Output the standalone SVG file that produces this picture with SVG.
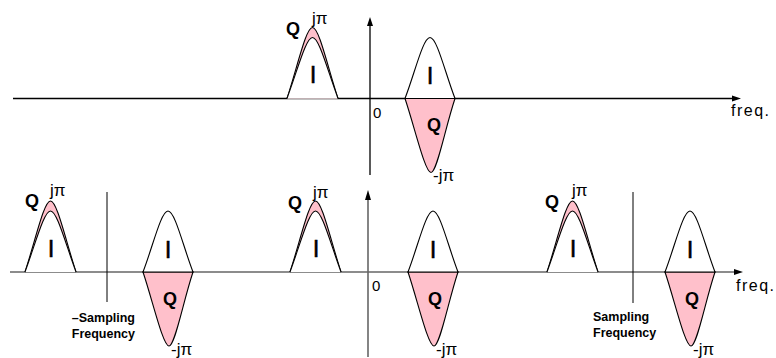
<svg xmlns="http://www.w3.org/2000/svg" width="776" height="358" viewBox="0 0 776 358">
<style>
text{font-family:"Liberation Sans",Arial,sans-serif;fill:#000}
.q{font-size:18px;font-weight:bold}
.i{font-size:24px;text-anchor:middle;stroke:#000;stroke-width:0.5}
.j{font-size:17px}
.z{font-size:15px}
.f{font-size:16px}
.s{font-size:12.5px;font-weight:bold}
.ax{stroke:#000;stroke-width:1.3;fill:none}
.ax2{stroke:#666;stroke-width:1.6;fill:none}
.sl{stroke:#000;stroke-width:1;fill:none}
.pk{fill:#ffc0cb;stroke:#000;stroke-width:1.1}
.wh{fill:#fff;stroke:#000;stroke-width:1.1}
</style>
<defs>
<g id="lobeL">
<path class="pk" d="M0,0 C11,-34 19,-71 25.5,-71 S40,-34 51,0"/>
<path class="wh" d="M0,0 C11,-30 19,-61 25.5,-61 S40,-30 51,0"/>
</g>
<g id="lobeR">
<path class="pk" d="M0,0 C10,30 20,74 26,74 C32,74 40,30 50,0 Z"/>
<path class="wh" d="M0,0 C10,-26 18,-61 25,-61 S40,-26 50,0 Z"/>
</g>
</defs>

<g id="connectors">
<line class="ax" x1="13" y1="98.5" x2="734" y2="98.5"/>
<polygon points="741,98.5 732,95.5 732,101.5" fill="#000"/>
<line class="ax" x1="370" y1="175" x2="370" y2="25"/>
<polygon points="370,17 367,26 373,26" fill="#000"/>
<line class="ax2" x1="10" y1="272" x2="736" y2="272"/>
<polygon points="743,272 734,269 734,275" fill="#000"/>
<line class="ax2" x1="368" y1="357" x2="368" y2="199"/>
<polygon points="368,190 365,200 371,200" fill="#000"/>
<line class="sl" x1="107" y1="192" x2="107" y2="302"/>
<line class="sl" x1="633" y1="192" x2="633" y2="303"/>
</g>

<g id="top-left-lobe">
<use href="#lobeL" x="287" y="98.5"/>
<text class="q" x="286" y="35">Q</text>
<text class="j" x="312" y="24">jπ</text>
<text class="i" x="313" y="83">I</text>
</g>
<g id="top-right-lobe">
<use href="#lobeR" x="405" y="98.5"/>
<text class="i" x="430" y="84">I</text>
<text class="q" x="434" y="131" text-anchor="middle">Q</text>
<text class="j" x="433" y="181">-jπ</text>
</g>
<g id="top-labels">
<text class="z" x="373" y="118">0</text>
<text class="f" x="731" y="116" textLength="38">freq.</text>
</g>

<g id="mid-left-lobe">
<use href="#lobeL" x="290" y="272"/>
<text class="q" x="288" y="209">Q</text>
<text class="j" x="313" y="198">jπ</text>
<text class="i" x="316" y="257">I</text>
</g>
<g id="mid-right-lobe">
<use href="#lobeR" x="408" y="272"/>
<text class="i" x="433" y="258">I</text>
<text class="q" x="435" y="305" text-anchor="middle">Q</text>
<text class="j" x="436" y="355">-jπ</text>
</g>
<g id="mid-labels">
<text class="z" x="372" y="291">0</text>
</g>

<g id="left-left-lobe">
<use href="#lobeL" x="25" y="272"/>
<text class="q" x="25" y="207">Q</text>
<text class="j" x="50" y="196">jπ</text>
<text class="i" x="51" y="257">I</text>
</g>
<g id="left-right-lobe">
<use href="#lobeR" x="143" y="272"/>
<text class="i" x="168" y="258">I</text>
<text class="q" x="170" y="305" text-anchor="middle">Q</text>
<text class="j" x="171" y="355">-jπ</text>
</g>
<g id="neg-sampling-label">
<text class="s" x="135" y="322" text-anchor="end">–Sampling</text>
<text class="s" x="135" y="338" text-anchor="end">Frequency</text>
</g>

<g id="right-left-lobe">
<use href="#lobeL" x="547" y="272"/>
<text class="q" x="545" y="208">Q</text>
<text class="j" x="572" y="196">jπ</text>
<text class="i" x="573" y="257">I</text>
</g>
<g id="right-right-lobe">
<use href="#lobeR" x="665" y="272"/>
<text class="i" x="690" y="258">I</text>
<text class="q" x="692" y="305" text-anchor="middle">Q</text>
<text class="j" x="693" y="355">-jπ</text>
</g>
<g id="sampling-label">
<text class="s" x="593" y="321">Sampling</text>
<text class="s" x="593" y="337">Frequency</text>
</g>
<g id="bottom-labels">
<text class="f" x="736" y="291" textLength="38">freq.</text>
</g>
</svg>
